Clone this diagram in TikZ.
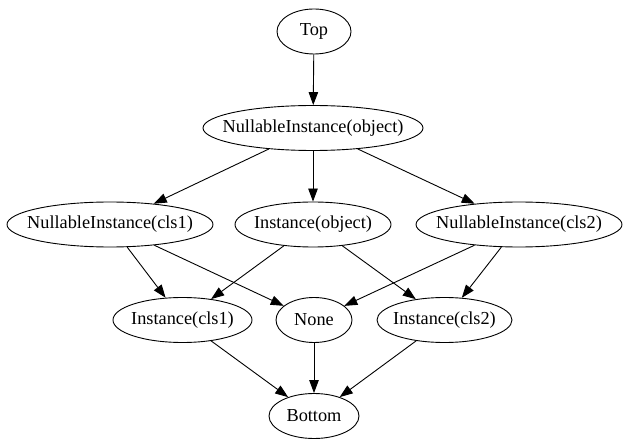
\documentclass[tikz,border=0pt]{standalone}
\usepackage{fontspec}
\setmainfont{Liberation Serif}
\usetikzlibrary{shapes.geometric,arrows.meta}
\newcommand{\zlbl}[1]{\makebox[0pt]{#1}}
\begin{document}
\begin{tikzpicture}[x=1bp,y=-1bp,
  gnode/.style={draw,ellipse,inner sep=0pt,minimum height=45bp,line width=0.9bp,
    font=\fontsize{18.3bp}{22bp}\selectfont},
  conn/.style={-{Triangle[length=13bp,width=9.5bp]},line width=0.9bp}]
\useasboundingbox (0,0) rectangle (628,447);
\node[gnode,minimum width=74bp]  (top)  at (314,31.5) {\zlbl{Top}};
\node[gnode,minimum width=220bp] (nio)  at (313,128) {\zlbl{NullableInstance(object)}};
\node[gnode,minimum width=206bp] (nic1) at (110,224.5) {\zlbl{NullableInstance(cls1)}};
\node[gnode,minimum width=156bp] (io)   at (313,224.5) {\zlbl{Instance(object)}};
\node[gnode,minimum width=206bp] (nic2) at (519,224.5) {\zlbl{NullableInstance(cls2)}};
\node[gnode,minimum width=139bp] (ic1)  at (182.5,320) {\zlbl{Instance(cls1)}};
\node[gnode,minimum width=76bp]  (none) at (314,320) {\zlbl{None}};
\node[gnode,minimum width=135bp] (ic2)  at (444.5,320) {\zlbl{Instance(cls2)}};
\node[gnode,minimum width=90bp]  (bot)  at (314,416) {\zlbl{Bottom}};
\draw[conn] (top) -- (nio);
\draw[conn] (nio) -- (nic1);
\draw[conn] (nio) -- (io);
\draw[conn] (nio) -- (nic2);
\draw[conn] (nic1) -- (ic1);
\draw[conn] (nic1) -- (none);
\draw[conn] (io) -- (ic1);
\draw[conn] (io) -- (ic2);
\draw[conn] (nic2) -- (none);
\draw[conn] (nic2) -- (ic2);
\draw[conn] (ic1) -- (bot);
\draw[conn] (none) -- (bot);
\draw[conn] (ic2) -- (bot);
\end{tikzpicture}
\end{document}
